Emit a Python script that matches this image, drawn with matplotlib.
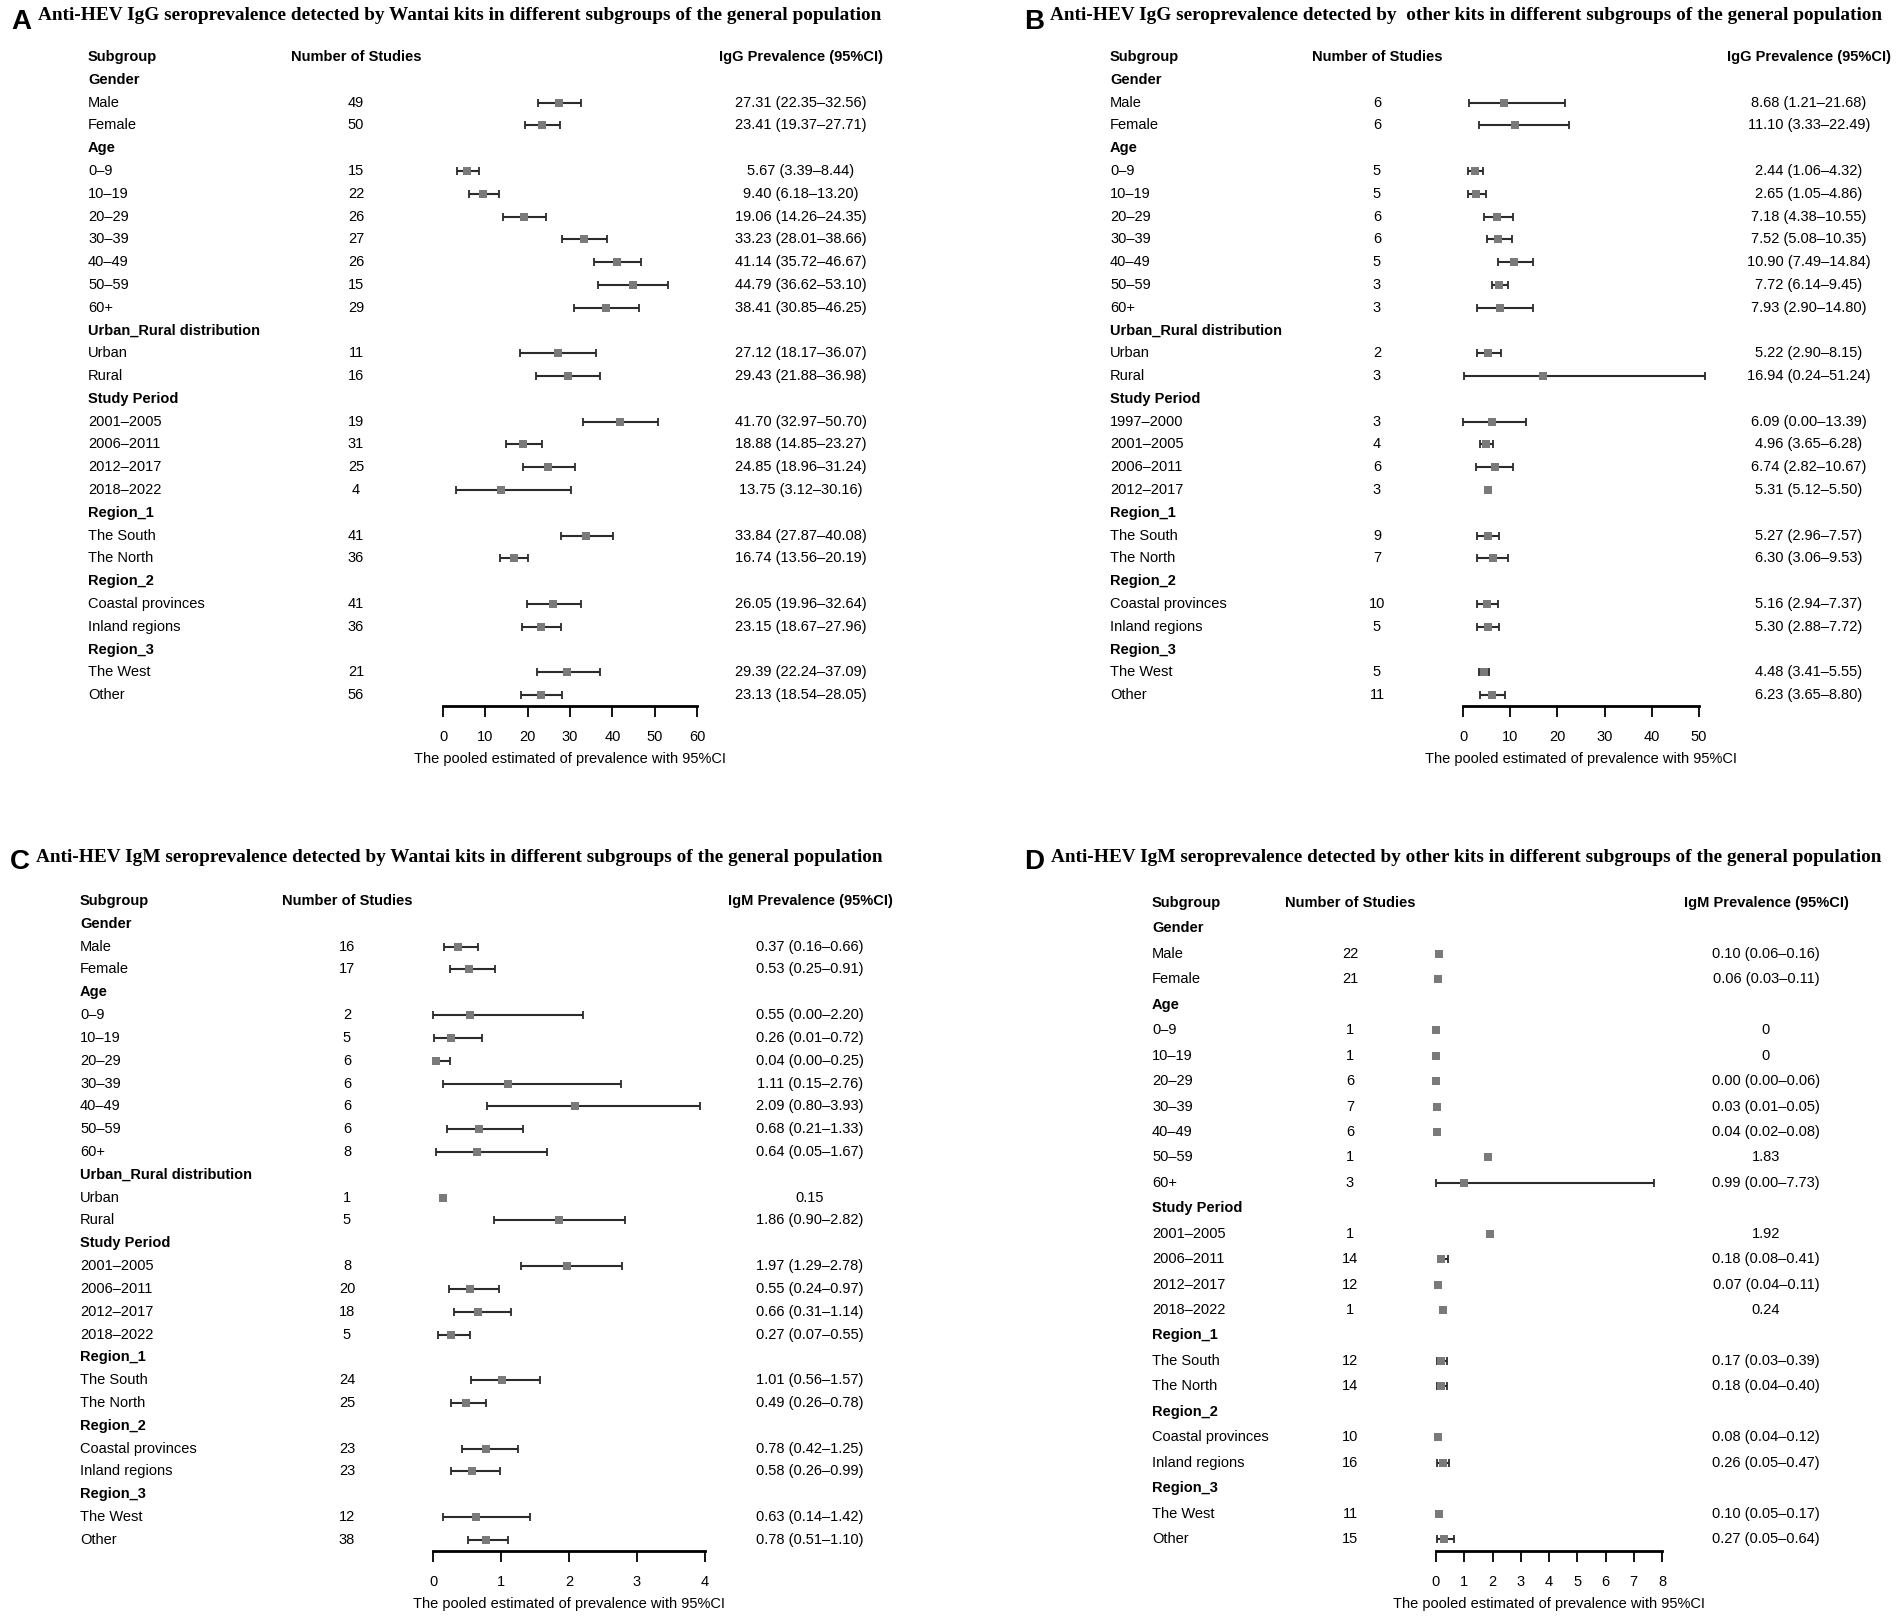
import matplotlib
matplotlib.use("Agg")
import matplotlib.pyplot as plt
from matplotlib.transforms import blended_transform_factory

W, H = 1902, 1618

plt.rcParams["font.family"] = ["Liberation Sans", "DejaVu Sans"]

# ---------------- data ----------------
# rows with n = None are group headings
rows_a = ["Gender", "Male", "Female",
          "Age", "0–9", "10–19", "20–29", "30–39", "40–49", "50–59", "60+",
          "Urban_Rural distribution", "Urban", "Rural",
          "Study Period", "2001–2005", "2006–2011", "2012–2017", "2018–2022",
          "Region_1", "The South", "The North",
          "Region_2", "Coastal provinces", "Inland regions",
          "Region_3", "The West", "Other"]
n_a = [None, 49, 50, None, 15, 22, 26, 27, 26, 15, 29, None, 11, 16,
       None, 19, 31, 25, 4, None, 41, 36, None, 41, 36, None, 21, 56]
est_a = [None, 27.31, 23.41, None, 5.67, 9.40, 19.06, 33.23, 41.14, 44.79, 38.41,
         None, 27.12, 29.43, None, 41.70, 18.88, 24.85, 13.75,
         None, 33.84, 16.74, None, 26.05, 23.15, None, 29.39, 23.13]
lo_a = [None, 22.35, 19.37, None, 3.39, 6.18, 14.26, 28.01, 35.72, 36.62, 30.85,
        None, 18.17, 21.88, None, 32.97, 14.85, 18.96, 3.12,
        None, 27.87, 13.56, None, 19.96, 18.67, None, 22.24, 18.54]
hi_a = [None, 32.56, 27.71, None, 8.44, 13.20, 24.35, 38.66, 46.67, 53.10, 46.25,
        None, 36.07, 36.98, None, 50.70, 23.27, 31.24, 30.16,
        None, 40.08, 20.19, None, 32.64, 27.96, None, 37.09, 28.05]

rows_b = ["Gender", "Male", "Female",
          "Age", "0–9", "10–19", "20–29", "30–39", "40–49", "50–59", "60+",
          "Urban_Rural distribution", "Urban", "Rural",
          "Study Period", "1997–2000", "2001–2005", "2006–2011", "2012–2017",
          "Region_1", "The South", "The North",
          "Region_2", "Coastal provinces", "Inland regions",
          "Region_3", "The West", "Other"]
n_b = [None, 6, 6, None, 5, 5, 6, 6, 5, 3, 3, None, 2, 3,
       None, 3, 4, 6, 3, None, 9, 7, None, 10, 5, None, 5, 11]
est_b = [None, 8.68, 11.10, None, 2.44, 2.65, 7.18, 7.52, 10.90, 7.72, 7.93,
         None, 5.22, 16.94, None, 6.09, 4.96, 6.74, 5.31,
         None, 5.27, 6.30, None, 5.16, 5.30, None, 4.48, 6.23]
lo_b = [None, 1.21, 3.33, None, 1.06, 1.05, 4.38, 5.08, 7.49, 6.14, 2.90,
        None, 2.90, 0.24, None, 0.00, 3.65, 2.82, 5.12,
        None, 2.96, 3.06, None, 2.94, 2.88, None, 3.41, 3.65]
hi_b = [None, 21.68, 22.49, None, 4.32, 4.86, 10.55, 10.35, 14.84, 9.45, 14.80,
        None, 8.15, 51.24, None, 13.39, 6.28, 10.67, 5.50,
        None, 7.57, 9.53, None, 7.37, 7.72, None, 5.55, 8.80]

rows_c = rows_a
n_c = [None, 16, 17, None, 2, 5, 6, 6, 6, 6, 8, None, 1, 5,
       None, 8, 20, 18, 5, None, 24, 25, None, 23, 23, None, 12, 38]
est_c = [None, 0.37, 0.53, None, 0.55, 0.26, 0.04, 1.11, 2.09, 0.68, 0.64,
         None, 0.15, 1.86, None, 1.97, 0.55, 0.66, 0.27,
         None, 1.01, 0.49, None, 0.78, 0.58, None, 0.63, 0.78]
lo_c = [None, 0.16, 0.25, None, 0.00, 0.01, 0.00, 0.15, 0.80, 0.21, 0.05,
        None, None, 0.90, None, 1.29, 0.24, 0.31, 0.07,
        None, 0.56, 0.26, None, 0.42, 0.26, None, 0.14, 0.51]
hi_c = [None, 0.66, 0.91, None, 2.20, 0.72, 0.25, 2.76, 3.93, 1.33, 1.67,
        None, None, 2.82, None, 2.78, 0.97, 1.14, 0.55,
        None, 1.57, 0.78, None, 1.25, 0.99, None, 1.42, 1.10]

rows_d = ["Gender", "Male", "Female",
          "Age", "0–9", "10–19", "20–29", "30–39", "40–49", "50–59", "60+",
          "Study Period", "2001–2005", "2006–2011", "2012–2017", "2018–2022",
          "Region_1", "The South", "The North",
          "Region_2", "Coastal provinces", "Inland regions",
          "Region_3", "The West", "Other"]
n_d = [None, 22, 21, None, 1, 1, 6, 7, 6, 1, 3,
       None, 1, 14, 12, 1, None, 12, 14, None, 10, 16, None, 11, 15]
est_d = [None, 0.10, 0.06, None, 0, 0, 0.00, 0.03, 0.04, 1.83, 0.99,
         None, 1.92, 0.18, 0.07, 0.24, None, 0.17, 0.18, None, 0.08, 0.26,
         None, 0.10, 0.27]
lo_d = [None, 0.06, 0.03, None, None, None, 0.00, 0.01, 0.02, None, 0.00,
        None, None, 0.08, 0.04, None, None, 0.03, 0.04, None, 0.04, 0.05,
        None, 0.05, 0.05]
hi_d = [None, 0.16, 0.11, None, None, None, 0.06, 0.05, 0.08, None, 7.73,
        None, None, 0.41, 0.11, None, None, 0.39, 0.40, None, 0.12, 0.47,
        None, 0.17, 0.64]

titles = {
    "A": "Anti-HEV IgG seroprevalence detected by Wantai kits in different subgroups of the general population",
    "B": "Anti-HEV IgG seroprevalence detected by  other kits in different subgroups of the general population",
    "C": "Anti-HEV IgM seroprevalence detected by Wantai kits in different subgroups of the general population",
    "D": "Anti-HEV IgM seroprevalence detected by other kits in different subgroups of the general population",
}

FS = 10.5
LINE_C = "#2b2b2b"
BOX_C = "#7a7a7a"

fig = plt.figure(figsize=(W / 100, H / 100), dpi=100)
fig.patch.set_facecolor("white")


def fmt_est(e, l, h):
    if l is None:
        return "0" if e == 0 else f"{e:.2f}"
    return f"{e:.2f} ({l:.2f}–{h:.2f})"


def panel(letter, head, rows, n, est, lo, hi, xmax, ticks, lay):
    x0, x1 = lay["ax"]
    top, step, axis_y = lay["head"], lay["step"], lay["axis"]
    ax = fig.add_axes([x0 / W, 1 - axis_y / H, (x1 - x0) / W, (axis_y - top) / H])
    ax.patch.set_visible(False)
    ax.set_xlim(0, xmax)
    ax.set_ylim((axis_y - top) / step, 0)
    for s in ["left", "top", "right"]:
        ax.spines[s].set_visible(False)
    ax.spines["bottom"].set_linewidth(2.0)
    ax.set_yticks([])
    ax.set_xticks(ticks)
    ax.tick_params(axis="x", direction="out", length=8, width=1.3,
                   pad=9, labelsize=FS)
    ax.set_xlabel("The pooled estimated of prevalence with 95%CI",
                  fontsize=FS, labelpad=6)

    tr = blended_transform_factory(fig.transFigure, ax.transData)
    sx, nx, ex = lay["sub"] / W, lay["n"] / W, lay["est"] / W

    ax.text(sx, 0, "Subgroup", transform=tr, fontsize=FS, weight="bold", va="center")
    ax.text(nx, 0, "Number of Studies", transform=tr, fontsize=FS,
            weight="bold", va="center", ha="center")
    ax.text(ex, 0, head, transform=tr, fontsize=FS, weight="bold",
            va="center", ha="center")

    for i, lab in enumerate(rows):
        y = i + 1
        if n[i] is None:
            ax.text(sx, y, lab, transform=tr, fontsize=FS, weight="bold", va="center")
            continue
        ax.text(sx, y, lab, transform=tr, fontsize=FS, va="center")
        ax.text(nx, y, str(n[i]), transform=tr, fontsize=FS, va="center", ha="center")
        ax.text(ex, y, fmt_est(est[i], lo[i], hi[i]), transform=tr,
                fontsize=FS, va="center", ha="center")
        if lo[i] is not None:
            eb = ax.errorbar([est[i]], [y], xerr=[[est[i] - lo[i]], [hi[i] - est[i]]],
                             fmt="none", ecolor=LINE_C, elinewidth=1.5,
                             capsize=2.6, capthick=1.3)
            for art in list(eb.lines[1]) + list(eb.lines[2]):
                art.set_clip_on(False)
        ax.plot([est[i]], [y], "s", color=BOX_C, markersize=5.5,
                markeredgewidth=0, clip_on=False, zorder=5)

    fig.text(lay["letter"][0] / W, 1 - lay["letter"][1] / H, letter,
             fontsize=20, weight="bold", ha="center", va="center")
    fig.text(lay["title"][0] / W, 1 - lay["title"][1] / H, titles[letter],
             family=["Liberation Serif"], fontsize=13.9, weight="bold",
             ha="left", va="center")


lay_a = dict(ax=(443, 697), head=57, step=22.79, axis=706, sub=88, n=356, est=801,
             letter=(21, 22), title=(38, 15))
lay_b = dict(ax=(1463, 1699), head=57, step=22.79, axis=706, sub=1110, n=1377, est=1809,
             letter=(1034, 22), title=(1050, 15))
lay_c = dict(ax=(433, 705), head=901, step=22.82, axis=1551, sub=80, n=347, est=810,
             letter=(20, 862), title=(36, 858))
lay_d = dict(ax=(1436, 1662), head=903, step=25.44, axis=1551, sub=1152, n=1350, est=1766,
             letter=(1034, 862), title=(1051, 858))

panel("A", "IgG Prevalence (95%CI)", rows_a, n_a, est_a, lo_a, hi_a,
      60, [0, 10, 20, 30, 40, 50, 60], lay_a)
panel("B", "IgG Prevalence (95%CI)", rows_b, n_b, est_b, lo_b, hi_b,
      50, [0, 10, 20, 30, 40, 50], lay_b)
panel("C", "IgM Prevalence (95%CI)", rows_c, n_c, est_c, lo_c, hi_c,
      4, [0, 1, 2, 3, 4], lay_c)
panel("D", "IgM Prevalence (95%CI)", rows_d, n_d, est_d, lo_d, hi_d,
      8, list(range(9)), lay_d)

fig.savefig("out.png", dpi=100, facecolor="white")
